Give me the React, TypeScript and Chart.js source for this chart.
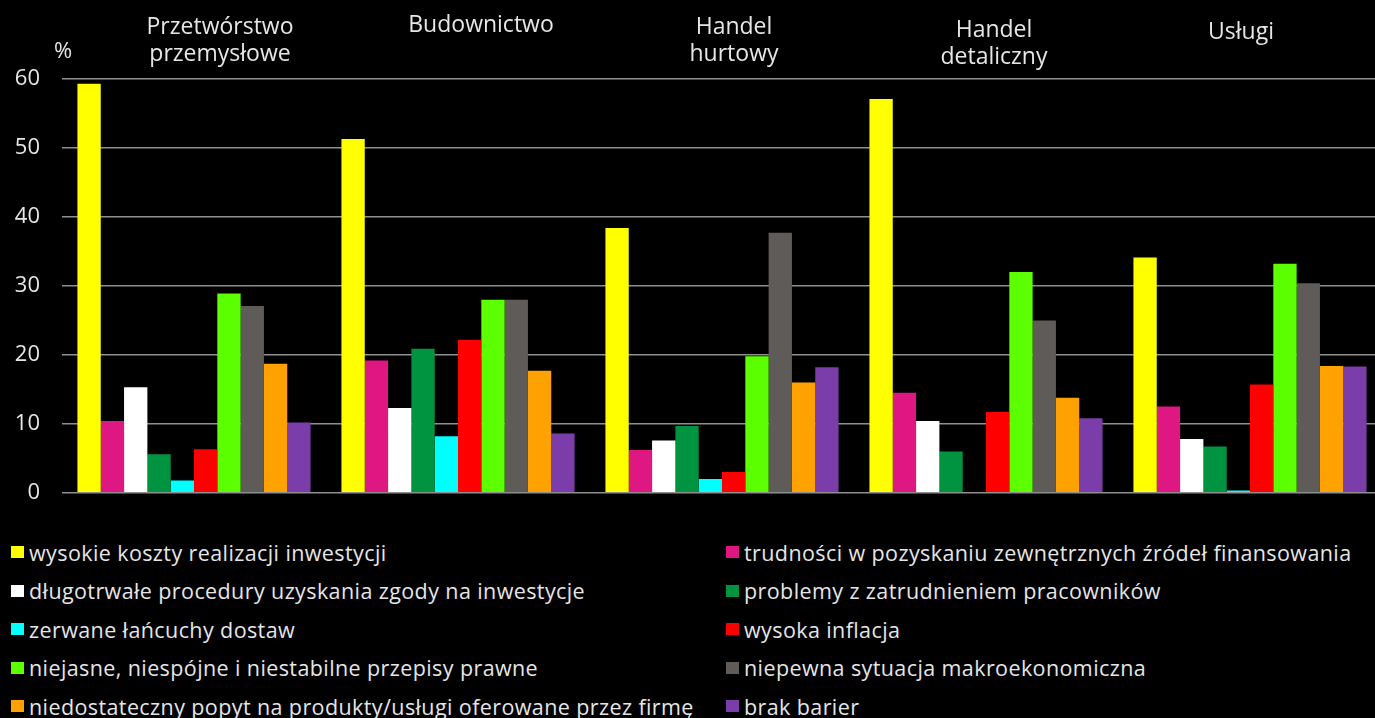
import React, { useEffect, useRef } from "react";
import { Chart, registerables } from "chart.js";

Chart.register(...registerables);

// Categories (sectors)
const categories: string[][] = [
  ["Przetwórstwo", "przemysłowe"],
  ["Budownictwo"],
  ["Handel", "hurtowy"],
  ["Handel", "detaliczny"],
  ["Usługi"],
];

// Series (barriers) – values in % per sector
const wysokieKoszty = [59.3, 51.3, 38.4, 57.1, 34.1];
const trudnosciFinansowanie = [10.4, 19.2, 6.2, 14.5, 12.5];
const dlugotrwaleProcedury = [15.3, 12.3, 7.6, 10.4, 7.8];
const problemyZatrudnienie = [5.6, 20.9, 9.7, 6.0, 6.7];
const zerwaneLancuchy = [1.8, 8.2, 2.0, 0, 0.35];
const wysokaInflacja = [6.3, 22.2, 3.0, 11.7, 15.7];
const niejasnePrzepisy = [28.9, 28.0, 19.8, 32.0, 33.2];
const niepewnaSytuacja = [27.1, 28.0, 37.7, 25.0, 30.4];
const niedostatecznyPopyt = [18.7, 17.7, 16.0, 13.8, 18.4];
const brakBarier = [10.2, 8.6, 18.2, 10.8, 18.3];

const seriesNames = [
  "wysokie koszty realizacji inwestycji",
  "trudności w pozyskaniu zewnętrznych źródeł finansowania",
  "długotrwałe procedury uzyskania zgody na inwestycje",
  "problemy z zatrudnieniem pracowników",
  "zerwane łańcuchy dostaw",
  "wysoka inflacja",
  "niejasne, niespójne i niestabilne przepisy prawne",
  "niepewna sytuacja makroekonomiczna",
  "niedostateczny popyt na produkty/usługi oferowane przez firmę",
  "brak barier",
];

const seriesValues = [
  wysokieKoszty,
  trudnosciFinansowanie,
  dlugotrwaleProcedury,
  problemyZatrudnienie,
  zerwaneLancuchy,
  wysokaInflacja,
  niejasnePrzepisy,
  niepewnaSytuacja,
  niedostatecznyPopyt,
  brakBarier,
];

const seriesColors = [
  "#FFFF00",
  "#DE1782",
  "#FFFFFF",
  "#009440",
  "#00FFFF",
  "#FF0000",
  "#5CFF00",
  "#5F5B59",
  "#FFA100",
  "#7B3DA9",
];

const unitLabel = "%";
const yMin = 0;
const yMax = 60;
const yStep = 10;

// styling: small manual nudges of the sector titles (as in the original layout)
const labelShiftX = [26, 23, 12, 8, -9];
const labelShiftY = [0, -2, 0, 3, 5];

const textColor = "#e6e6e6";
const fontFamily = '"Open Sans", "Noto Sans", sans-serif';

const overlayPlugin = {
  id: "overlayText",
  afterDraw(chart: any) {
    const { ctx, chartArea } = chart;
    const xScale = chart.scales.x;
    ctx.save();
    ctx.fillStyle = textColor;
    ctx.font = `22px ${fontFamily}`;
    ctx.textAlign = "center";
    ctx.textBaseline = "middle";
    ctx.fillText(unitLabel, chartArea.left + 1, chartArea.top - 27);

    ctx.font = `23px ${fontFamily}`;
    ctx.textBaseline = "alphabetic";
    categories.forEach((lines, i) => {
      const x = xScale.getPixelForValue(i) + labelShiftX[i];
      lines.forEach((line, j) => {
        ctx.fillText(line, x, chartArea.top - 45 + labelShiftY[i] + j * 27);
      });
    });
    ctx.restore();
  },
};

export default function App() {
  const canvasRef = useRef<HTMLCanvasElement | null>(null);

  useEffect(() => {
    if (!canvasRef.current) return;
    const chart = new Chart(canvasRef.current, {
      type: "bar",
      data: {
        labels: categories.map((c) => c.join(" ")),
        datasets: seriesNames.map((name, i) => ({
          label: name,
          data: seriesValues[i],
          backgroundColor: seriesColors[i],
          borderWidth: 0,
          barPercentage: 1,
          categoryPercentage: 0.883,
        })),
      },
      options: {
        responsive: false,
        animation: false,
        layout: { padding: { top: 79, bottom: 8, left: 0, right: 0 } },
        plugins: {
          legend: { display: false },
          tooltip: { enabled: false },
        },
        scales: {
          x: {
            display: false,
          },
          y: {
            min: yMin,
            max: yMax,
            grid: { color: "#8f8f8f", lineWidth: 1.5, drawTicks: false },
            border: { display: false },
            ticks: {
              stepSize: yStep,
              color: textColor,
              font: { family: fontFamily, size: 22 },
              padding: 22,
            },
            afterFit: (scale: any) => {
              scale.width = 62;
            },
          },
        },
      },
      plugins: [overlayPlugin],
    });
    return () => chart.destroy();
  }, []);

  const rows: number[][] = [];
  for (let i = 0; i < seriesNames.length; i += 2) rows.push([i, i + 1]);

  return (
    <div
      style={{
        position: "fixed",
        left: 0,
        top: 0,
        width: 1375,
        height: 718,
        overflow: "hidden",
        background: "#000",
      }}
    >
      <canvas
        ref={canvasRef}
        width={1382}
        height={528}
        style={{ position: "absolute", left: 0, top: 0, width: 1382, height: 528 }}
      />
      <div
        style={{
          position: "absolute",
          left: 11,
          top: 533,
          display: "grid",
          gridTemplateColumns: "715px auto",
          gridAutoRows: "38.5px",
          fontFamily: fontFamily,
          fontSize: 21.5,
          letterSpacing: "0.4px",
          color: textColor,
          whiteSpace: "nowrap",
        }}
      >
        {rows.map((pair) =>
          pair.map((idx) => (
            <div
              key={idx}
              style={{ display: "flex", alignItems: "center", height: "38.5px" }}
            >
              <span
                style={{
                  display: "inline-block",
                  width: 13,
                  height: 12,
                  background: seriesColors[idx],
                  marginRight: 5,
                  flex: "none",
                }}
              />
              <span>{seriesNames[idx]}</span>
            </div>
          ))
        )}
      </div>
    </div>
  );
}
